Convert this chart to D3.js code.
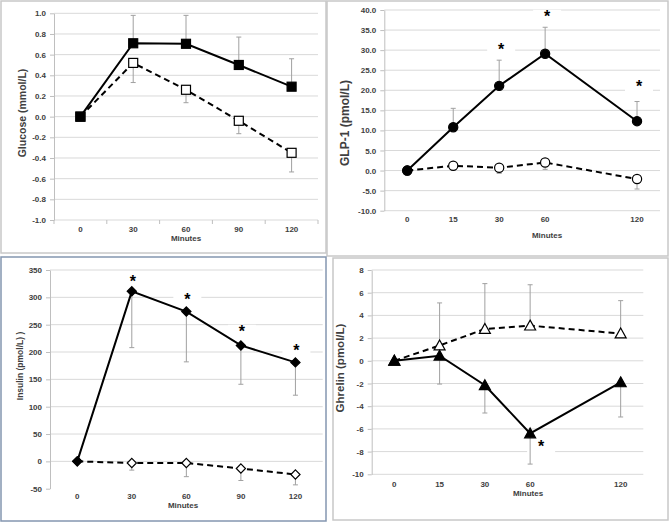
<!DOCTYPE html>
<html><head><meta charset="utf-8">
<script src="https://cdn.jsdelivr.net/npm/d3@7"></script>
<style>
body{margin:0;background:#fff}
svg{display:block}
text{font-family:"Liberation Sans",Arial,sans-serif;}
</style>
</head><body>
<svg id="c" width="671" height="522"></svg>
<script>
// ---------- DATA ----------
// Glucose
const glucoseMinutes = ["0","30","60","90","120"];
const glucoseTicks = [-1.0,-0.8,-0.6,-0.4,-0.2,0.0,0.2,0.4,0.6,0.8,1.0];
const glucoseFilled = [0, 0.71, 0.705, 0.50, 0.29];
const glucoseFilledErr = [null, 0.98, 0.98, 0.77, 0.56];
const glucoseOpen = [0, 0.52, 0.26, -0.04, -0.35];
const glucoseOpenErr = [null, 0.33, 0.135, -0.165, -0.535];

// GLP-1 (axis has an empty slot where 90 would be)
const glpAxisSlots = ["0","15","30","60","","120"];
const glpMinutes = ["0","15","30","60","120"];
const glpTicks = [-10,-5,0,5,10,15,20,25,30,35,40];
const glpFilled = [0, 10.8, 21.1, 29.1, 12.3];
const glpFilledErr = [null, 15.5, 27.5, 35.7, 17.2];
const glpOpen = [0, 1.2, 0.7, 2.0, -2.1];
const glpOpenErr = [null, 0.4, -0.7, 0.3, -4.6];
const glpStarMinutes = ["30","60","120"];
const glpStarValues = [30.0, 38.3, 20.7];

// Insulin
const insulinMinutes = ["0","30","60","90","120"];
const insulinTicks = [-50,0,50,100,150,200,250,300,350];
const insulinFilled = [0, 311, 274, 212, 181];
const insulinFilledErr = [null, 208, 182, 141, 121];
const insulinOpen = [0, -3, -3, -13, -24];
const insulinOpenErr = [null, -16, -28, -35, -43];
const insulinStarMinutes = ["30","60","90","120"];
const insulinStarValues = [328, 294, 237, 202];

// Ghrelin
const ghrelinAxisSlots = ["0","15","30","60","","120"];
const ghrelinMinutes = ["0","15","30","60","120"];
const ghrelinTicks = [-10,-8,-6,-4,-2,0,2,4,6,8];
const ghrelinOpen = [0, 1.35, 2.8, 3.1, 2.4];
const ghrelinOpenErr = [null, 5.1, 6.8, 6.7, 5.3];
const ghrelinFilled = [0, 0.45, -2.15, -6.4, -1.9];
const ghrelinFilledErr = [null, -2.05, -4.6, -9.1, -4.95];
const ghrelinStarMinutes = ["60"];
const ghrelinStarValues = [-7.6];

// ---------- DRAWING ----------
const svg = d3.select("#c");
const fmt1 = d => d.toFixed(1);
const fmt0 = d => String(d);

function marker(g, shape, cx, cy, filled){
  const fill = filled ? "#000" : "#fff";
  if(shape==="square"){
    g.append("rect").attr("x",cx-4.5).attr("y",cy-4.5).attr("width",9).attr("height",9)
      .attr("fill",fill).attr("stroke","#000").attr("stroke-width",1.2);
  } else if(shape==="circle"){
    g.append("circle").attr("cx",cx).attr("cy",cy).attr("r",4.6)
      .attr("fill",fill).attr("stroke","#000").attr("stroke-width",1.2);
  } else if(shape==="diamond"){
    const s=4.6;
    g.append("path").attr("d",`M${cx},${cy-s}L${cx+s},${cy}L${cx},${cy+s}L${cx-s},${cy}Z`)
      .attr("fill",fill).attr("stroke","#000").attr("stroke-width",1.2);
  } else if(shape==="triangle"){
    const s=5.5;
    g.append("path").attr("d",`M${cx},${cy-s}L${cx+s},${cy+s*0.8}L${cx-s},${cy+s*0.8}Z`)
      .attr("fill",fill).attr("stroke","#000").attr("stroke-width",1.2);
  }
}

function drawPanel(c){
  const g = svg.append("g");
  g.append("rect").attr("x",c.box[0]).attr("y",c.box[1])
    .attr("width",c.box[2]-c.box[0]).attr("height",c.box[3]-c.box[1])
    .attr("fill","#fff").attr("stroke",c.borderColor||"#c8c8c8").attr("stroke-width",c.borderWidth||1.5);

  const x = d3.scaleBand().domain(c.axisCats).range([c.left,c.right]);
  const cx = m => x(m) + x.bandwidth()/2;
  const y = d3.scaleLinear().domain(c.yDomain).range([c.bottom,c.top]);

  g.append("g").selectAll("line").data(c.gridTicks).join("line")
    .attr("x1",c.left).attr("x2",c.right)
    .attr("y1",d=>y(d)).attr("y2",d=>y(d))
    .attr("stroke","#d9d9d9").attr("stroke-width",1);

  (c.stars||[]).forEach(s=>{
    g.append("rect").attr("x",cx(s.m)+s.dx-14).attr("y",y(s.v)-7)
      .attr("width",28).attr("height",13).attr("fill","#fff");
  });

  const ya = g.append("g").attr("transform",`translate(${c.left},0)`)
    .call(d3.axisLeft(y).tickValues(c.yTicks).tickFormat(c.fmt).tickSize(4).tickSizeOuter(0).tickPadding(4));
  ya.select(".domain").attr("stroke","#bfbfbf");
  ya.selectAll(".tick line").attr("stroke","#bfbfbf");
  ya.selectAll("text").attr("font-size",c.tickFont).attr("font-weight","bold").attr("fill","#404040")
    .attr("font-family","'Liberation Sans',Arial,sans-serif");

  const xa = g.append("g").attr("transform",`translate(0,${c.xLabelY})`)
    .call(d3.axisBottom(x).tickSize(0).tickPadding(0));
  xa.select(".domain").remove();
  xa.selectAll("text").attr("font-size",c.tickFont).attr("font-weight","bold").attr("fill","#404040")
    .attr("font-family","'Liberation Sans',Arial,sans-serif").attr("dy","0.35em");

  if(c.xBoundaryTicks){
    const n = c.axisCats.length;
    const b = d3.range(n+1).map(i=>c.left + i*x.step());
    g.append("g").selectAll("line").data(b).join("line")
      .attr("x1",d=>d).attr("x2",d=>d).attr("y1",c.bottom).attr("y2",c.bottom+4)
      .attr("stroke","#bfbfbf");
  }

  g.append("text").attr("x",c.xTitle[0]).attr("y",c.xTitle[1]).attr("text-anchor","middle")
    .attr("font-size",8).attr("font-weight","bold").attr("fill","#404040").text("Minutes");
  g.append("text").attr("transform",`translate(${c.yTitle[0]},${c.yTitle[1]}) rotate(-90)`)
    .attr("text-anchor","middle").attr("dy","0.35em")
    .attr("font-size",c.titleFont).attr("font-weight","bold").attr("fill","#404040").text(c.yTitleText);

  c.series.forEach(s=>{
    s.err.forEach((e,i)=>{
      if(e===null) return;
      const px = cx(c.minutes[i]);
      g.append("line").attr("x1",px).attr("x2",px).attr("y1",y(s.values[i])).attr("y2",y(e))
        .attr("stroke","#a0a0a0").attr("stroke-width",1);
      g.append("line").attr("x1",px-2.5).attr("x2",px+2.5).attr("y1",y(e)).attr("y2",y(e))
        .attr("stroke","#a0a0a0").attr("stroke-width",1);
    });
  });

  c.series.forEach(s=>{
    const line = d3.line().x((d,i)=>cx(c.minutes[i])).y(d=>y(d));
    g.append("path").attr("d",line(s.values)).attr("fill","none").attr("stroke","#000")
      .attr("stroke-width",2).attr("stroke-dasharray",s.dashed?"6,4":null);
  });
  c.series.forEach(s=>{
    s.values.forEach((v,i)=>marker(g,c.shape,cx(c.minutes[i]),y(v),s.filled));
  });

  (c.stars||[]).forEach(s=>{
    g.append("text").attr("x",cx(s.m)+s.dx).attr("y",y(s.v)).attr("text-anchor","middle")
      .attr("dy","0.3em").attr("font-size",16).attr("font-weight","bold").attr("fill","#000").text("*");
  });
}

drawPanel({
  box:[1,1,326,253],
  left:54,right:318,top:13.3,bottom:220,
  axisCats:glucoseMinutes, minutes:glucoseMinutes,
  yDomain:[-1,1], yTicks:glucoseTicks, gridTicks:glucoseTicks, fmt:fmt1,
  tickFont:8, titleFont:10.5,
  xLabelY:229, xTitle:[186,241], yTitle:[22,113], yTitleText:"Glucose (mmol/L)",
  xBoundaryTicks:true, shape:"square",
  series:[
    {values:glucoseOpen, err:glucoseOpenErr, filled:false, dashed:true},
    {values:glucoseFilled, err:glucoseFilledErr, filled:true, dashed:false}
  ]
});

drawPanel({
  box:[327,1,668,256],
  left:384.3,right:660,top:10,bottom:210.7,
  axisCats:glpAxisSlots, minutes:glpMinutes,
  yDomain:[-10,40], yTicks:glpTicks, gridTicks:glpTicks, fmt:fmt1,
  tickFont:8, titleFont:12,
  xLabelY:219, xTitle:[547,238], yTitle:[345,123], yTitleText:"GLP-1 (pmol/L)",
  shape:"circle",
  stars: glpStarMinutes.map((m,i)=>({m:m, v:glpStarValues[i], dx:2})),
  series:[
    {values:glpOpen, err:glpOpenErr, filled:false, dashed:true},
    {values:glpFilled, err:glpFilledErr, filled:true, dashed:false}
  ]
});

drawPanel({
  box:[1,257,326,521], borderColor:"#8496b0", borderWidth:1.5,
  left:50,right:322.7,top:270,bottom:488.7,
  axisCats:insulinMinutes, minutes:insulinMinutes,
  yDomain:[-50,350], yTicks:insulinTicks, gridTicks:insulinTicks.filter(d=>d>-50), fmt:fmt0,
  tickFont:8, titleFont:8.5,
  xLabelY:496, xTitle:[183,508], yTitle:[20,366], yTitleText:"Insulin  (pmol/L) )",
  shape:"diamond",
  stars: insulinStarMinutes.map((m,i)=>({m:m, v:insulinStarValues[i], dx:1})),
  series:[
    {values:insulinOpen, err:insulinOpenErr, filled:false, dashed:true},
    {values:insulinFilled, err:insulinFilledErr, filled:true, dashed:false}
  ]
});

drawPanel({
  box:[333,258,668,520],
  left:371.7,right:643.3,top:270,bottom:474.3,
  axisCats:ghrelinAxisSlots, minutes:ghrelinMinutes,
  yDomain:[-10,8], yTicks:ghrelinTicks, gridTicks:ghrelinTicks, fmt:fmt0,
  tickFont:8, titleFont:11.5,
  xLabelY:484, xTitle:[528,496], yTitle:[340,368], yTitleText:"Ghrelin (pmol/L)",
  shape:"triangle",
  stars: ghrelinStarMinutes.map((m,i)=>({m:m, v:ghrelinStarValues[i], dx:11})),
  series:[
    {values:ghrelinOpen, err:ghrelinOpenErr, filled:false, dashed:true},
    {values:ghrelinFilled, err:ghrelinFilledErr, filled:true, dashed:false}
  ]
});
</script>
</body></html>
